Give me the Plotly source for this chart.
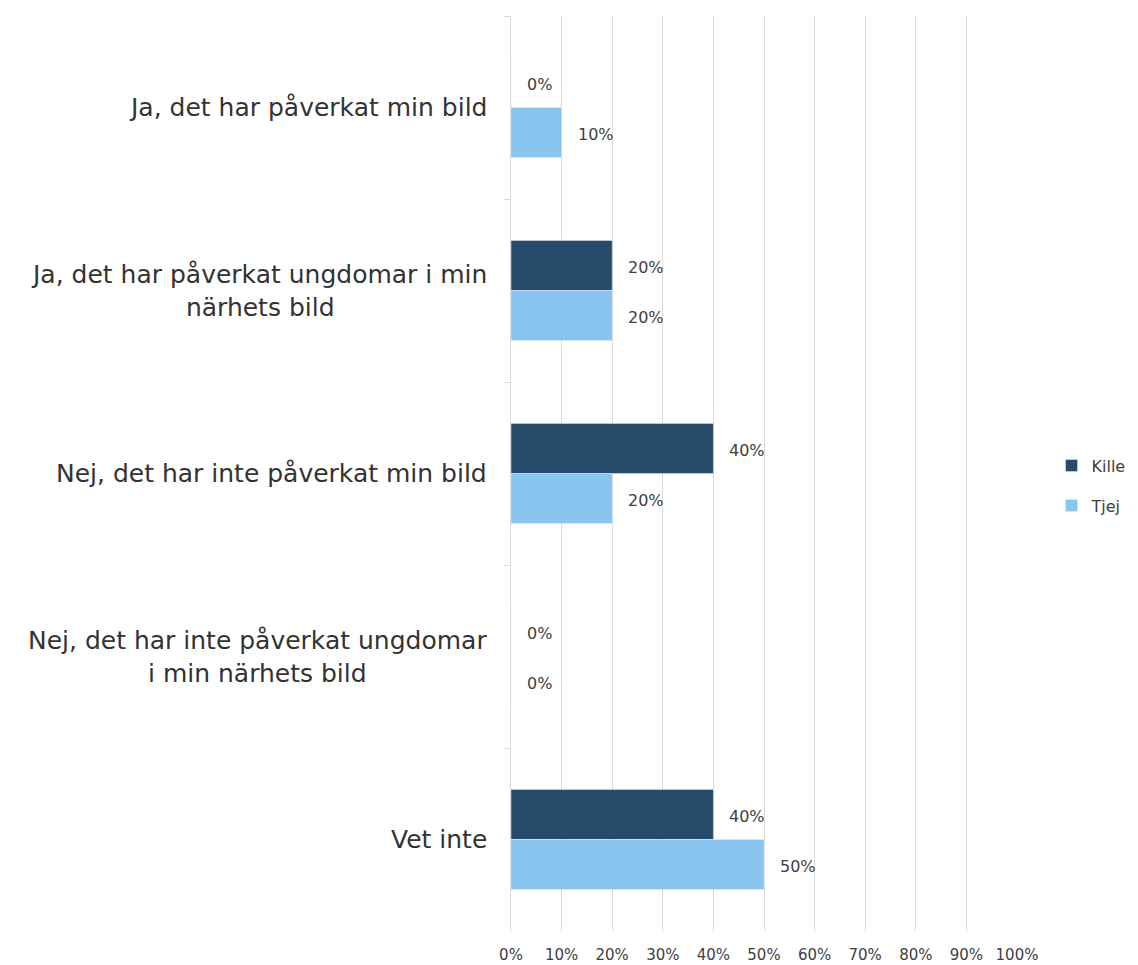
import plotly.graph_objects as go

categories = [
    "Ja, det har påverkat min bild",
    "Ja, det har påverkat ungdomar i min<br>närhets bild",
    "Nej, det har inte påverkat min bild",
    "Nej, det har inte påverkat ungdomar<br>i min närhets bild",
    "Vet inte",
]
kille = [0.0, 0.2, 0.4, 0.0, 0.4]
tjej = [0.1, 0.2, 0.2, 0.0, 0.5]
x_ticks = [0, 0.1, 0.2, 0.3, 0.4, 0.5, 0.6, 0.7, 0.8, 0.9, 1.0]
x_ticklabels = ["0%", "10%", "20%", "30%", "40%", "50%", "60%", "70%", "80%", "90%", "100%"]

FONT = "DejaVu Sans"
KILLE_C = "#264a69"
TJEJ_C = "#89c5ef"

fig = go.Figure()
fig.add_trace(go.Bar(y=categories, x=kille, orientation="h", name="Kille",
                     marker_color=KILLE_C, legendgroup="a"))
fig.add_trace(go.Bar(y=categories, x=tjej, orientation="h", name="Tjej",
                     marker_color=TJEJ_C, legendgroup="b"))

annotations = []
for cat, kv, tv in zip(categories, kille, tjej):
    for v, shift in ((kv, 23), (tv, -27)):
        annotations.append(dict(
            x=v, y=cat, xref="x", yref="y", text=f"{round(v*100)}%",
            showarrow=False, xanchor="left", xshift=14, yshift=shift,
            font=dict(family=FONT, size=16, color="#404040")))
    annotations.append(dict(
        x=0, y=cat, xref="paper", yref="y", text=cat, showarrow=False,
        xanchor="right", align="center", xshift=-22,
        font=dict(family=FONT, size=25, color="#333333")))

fig.update_layout(
    width=1138, height=965,
    margin=dict(l=503, r=129, t=8, b=42, autoexpand=False),
    paper_bgcolor="white", plot_bgcolor="white",
    barmode="group", bargap=0.453, bargroupgap=0,
    font=dict(family=FONT, color="#404040"),
    legend=dict(xref="container", yref="container", x=0.917, y=0.505,
                xanchor="left", yanchor="middle",
                traceorder="grouped", tracegroupgap=16,
                font=dict(family=FONT, size=16, color="#404040"),
                itemwidth=30),
    annotations=annotations,
    showlegend=True,
)
fig.update_xaxes(range=[0, 1], tickvals=x_ticks, ticktext=x_ticklabels,
                 showgrid=True, gridcolor="#d9d9d9", gridwidth=1,
                 zeroline=False, showline=False,
                 tickfont=dict(family=FONT, size=15, color="#404040"),
                 ticklabelstandoff=13)
fig.update_yaxes(autorange="reversed", showticklabels=False,
                 showline=True, linecolor="#d9d9d9", linewidth=1,
                 ticks="outside", tickson="boundaries", ticklen=6,
                 tickcolor="#d9d9d9", showgrid=False)

fig.write_html("out.html")
